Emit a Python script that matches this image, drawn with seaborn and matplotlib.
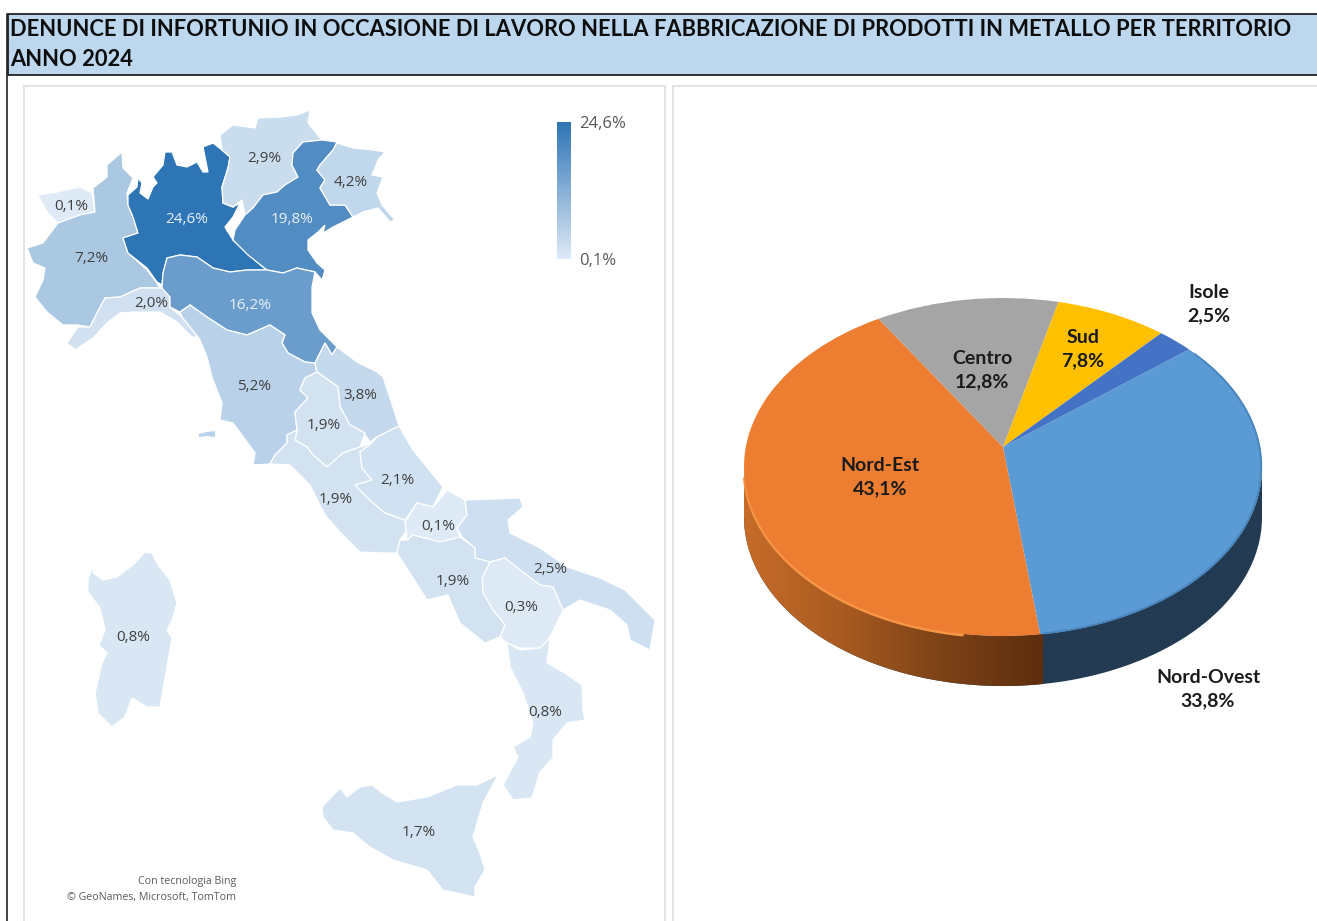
import numpy as np
import matplotlib
matplotlib.use('Agg')
import matplotlib.pyplot as plt
import seaborn as sns
from matplotlib.patches import Polygon, PathPatch, Rectangle
from matplotlib.path import Path

W, H = 1317, 921

TITLE_LINES = ['DENUNCE DI INFORTUNIO IN OCCASIONE DI LAVORO NELLA FABBRICAZIONE DI PRODOTTI IN METALLO PER TERRITORIO',
               'ANNO 2024']

# share by region
regions = ['Valle d\'Aosta', 'Piemonte', 'Lombardia', 'Trentino-Alto Adige', 'Veneto', 'Friuli-Venezia Giulia',
           'Liguria', 'Emilia-Romagna', 'Toscana', 'Marche', 'Umbria', 'Lazio', 'Abruzzo', 'Molise',
           'Puglia', 'Basilicata', 'Campania', 'Calabria', 'Sicilia', 'Sardegna']
region_share = [0.1, 7.2, 24.6, 2.9, 19.8, 4.2, 2.0, 16.2, 5.2, 3.8, 1.9, 1.9, 2.1, 0.1, 2.5, 0.3, 1.9, 0.8, 1.7, 0.8]
label_xy = [(71, 206), (91, 258), (187, 219), (264, 159), (292, 219), (351, 182), (151, 303), (250, 305), (254, 386),
            (360, 395), (324, 425), (336, 499), (397, 480), (438, 526), (550, 569), (521, 607), (453, 581), (545, 712),
            (419, 832), (133, 637)]

# share by macro area
areas = ['Nord-Ovest', 'Nord-Est', 'Centro', 'Sud', 'Isole']
area_share = [33.8, 43.1, 12.8, 7.8, 2.5]
area_colors = ['#5B9BD5', '#ED7D31', '#A5A5A5', '#FFC000', '#4472C4']
area_label_xy = [(1208, 689), (880, 477), (982, 370), (1083, 349), (1209, 304)]

# region outlines (pixels)
outlines = {
    'Valle d\'Aosta': [(38, 195), (57, 192), (80, 187), (92, 193), (95, 212), (80, 215), (58, 223), (47, 212)],
    'Piemonte': [(27, 248), (43, 243), (58, 223), (80, 215), (95, 212), (93, 188), (107, 177), (107, 165), (122, 152),
                 (123, 168), (133, 178), (127, 193), (128, 205), (133, 217), (138, 233), (123, 238), (128, 253),
                 (147, 270), (157, 283), (160, 288), (140, 288), (120, 297), (105, 298), (97, 313), (90, 327),
                 (78, 325), (63, 325), (47, 312), (35, 297), (43, 280), (45, 268), (33, 263)],
    'Lombardia': [(128, 195), (137, 187), (138, 178), (142, 183), (140, 193), (148, 199), (153, 187), (157, 183),
                  (153, 177), (163, 165), (165, 152), (172, 152), (177, 165), (187, 167), (197, 162), (203, 172),
                  (208, 172), (203, 147), (213, 143), (222, 150), (230, 157), (228, 168), (222, 187), (223, 203),
                  (233, 207), (240, 203), (233, 217), (225, 227), (233, 240), (247, 253), (263, 267), (267, 270),
                  (247, 270), (230, 272), (213, 268), (197, 257), (180, 255), (167, 258), (163, 273), (162, 285),
                  (157, 282), (147, 268), (128, 253), (123, 238), (138, 233), (133, 217), (128, 205)],
    'Trentino-Alto Adige': [(220, 135), (233, 125), (255, 128), (258, 118), (280, 117), (297, 115), (310, 110),
                            (308, 123), (322, 140), (303, 142), (293, 153), (292, 165), (298, 177), (285, 185),
                            (277, 192), (263, 195), (253, 208), (245, 215), (242, 200), (233, 207), (223, 203),
                            (222, 187), (228, 168), (230, 157), (222, 150)],
    'Veneto': [(303, 142), (322, 140), (337, 142), (333, 150), (320, 165), (317, 170), (325, 180), (320, 188),
               (330, 205), (345, 205), (353, 217), (333, 227), (323, 233), (325, 225), (318, 232), (308, 240),
               (308, 250), (317, 263), (325, 270), (322, 280), (315, 272), (297, 268), (283, 273), (267, 270),
               (248, 255), (233, 240), (235, 230), (245, 215), (253, 208), (263, 195), (277, 192), (285, 185),
               (298, 177), (292, 165), (293, 153)],
    'Friuli-Venezia Giulia': [(337, 143), (353, 148), (373, 150), (385, 152), (378, 160), (372, 175), (383, 177),
                              (377, 193), (382, 205), (395, 220), (390, 222), (378, 208), (363, 212), (353, 217),
                              (345, 205), (330, 205), (320, 188), (325, 180), (317, 170), (320, 165), (333, 150)],
    'Liguria': [(67, 343), (78, 327), (90, 327), (97, 313), (105, 298), (120, 297), (140, 288), (162, 288), (170, 297),
                (170, 307), (182, 317), (193, 330), (198, 337), (192, 337), (177, 322), (160, 312), (133, 312),
                (120, 313), (107, 323), (93, 338), (75, 350)],
    'Emilia-Romagna': [(162, 288), (163, 273), (167, 258), (180, 255), (197, 257), (213, 268), (230, 272), (247, 270),
                       (267, 270), (283, 273), (297, 268), (315, 272), (312, 287), (312, 313), (320, 330), (337, 347),
                       (332, 355), (325, 343), (315, 363), (305, 362), (288, 353), (282, 343), (285, 335), (270, 325),
                       (247, 335), (227, 330), (207, 317), (190, 305), (180, 312), (170, 307), (170, 297)],
    'Toscana': [(180, 312), (190, 305), (207, 317), (227, 330), (247, 335), (270, 325), (285, 335), (282, 343),
                (288, 353), (305, 362), (315, 363), (317, 372), (305, 378), (300, 390), (308, 398), (295, 412),
                (297, 430), (287, 435), (287, 443), (275, 455), (270, 464), (253, 465), (255, 453), (247, 442),
                (233, 423), (220, 420), (222, 403), (212, 377), (207, 357), (200, 340), (198, 337), (182, 317)],
    'Marche': [(315, 363), (325, 343), (332, 355), (337, 347), (357, 362), (377, 372), (383, 377), (393, 407),
               (399, 426), (377, 437), (370, 442), (363, 432), (350, 425), (340, 407), (338, 387), (317, 372)],
    'Umbria': [(317, 372), (338, 387), (340, 407), (350, 425), (365, 433), (360, 447), (343, 453), (327, 467),
               (313, 455), (307, 447), (295, 440), (297, 430), (295, 412), (308, 398), (300, 390), (305, 378)],
    'Lazio': [(287, 435), (297, 430), (295, 440), (307, 447), (313, 455), (327, 467), (343, 453), (360, 447),
              (372, 443), (360, 452), (362, 468), (372, 480), (355, 485), (372, 502), (385, 513), (405, 520),
              (407, 530), (400, 540), (397, 553), (385, 553), (360, 552), (340, 532), (325, 515), (310, 485),
              (290, 465), (270, 464), (275, 455), (287, 443)],
    'Abruzzo': [(399, 426), (413, 450), (443, 487), (433, 507), (417, 503), (405, 520), (385, 513), (372, 502),
                (355, 485), (372, 480), (362, 468), (360, 452), (372, 443), (377, 437)],
    'Molise': [(447, 490), (465, 500), (467, 515), (457, 528), (460, 537), (440, 542), (413, 535), (407, 540),
               (405, 522), (417, 503), (433, 507)],
    'Puglia': [(465, 500), (520, 498), (523, 507), (508, 520), (510, 533), (540, 548), (567, 567), (600, 578),
               (625, 590), (655, 620), (650, 650), (630, 640), (627, 625), (610, 610), (580, 600), (563, 610),
               (553, 587), (540, 585), (520, 570), (505, 558), (490, 562), (475, 558), (475, 548), (462, 537),
               (457, 528), (467, 515)],
    'Basilicata': [(490, 562), (505, 558), (520, 570), (540, 585), (553, 587), (563, 610), (552, 633), (543, 648),
                   (520, 648), (507, 643), (500, 637), (505, 625), (493, 610), (483, 593), (482, 578)],
    'Campania': [(400, 540), (407, 540), (413, 535), (440, 542), (460, 537), (475, 548), (475, 558), (490, 562),
                 (482, 578), (483, 593), (493, 610), (505, 625), (500, 637), (485, 643), (460, 623), (448, 595),
                 (427, 600), (410, 573), (397, 553)],
    'Calabria': [(507, 643), (520, 650), (540, 648), (550, 638), (547, 663), (563, 672), (582, 685), (583, 710),
                 (585, 720), (567, 723), (553, 740), (553, 758), (540, 772), (532, 798), (513, 800), (503, 785),
                 (518, 757), (513, 747), (530, 737), (533, 723), (523, 693), (510, 667)],
    'Sicilia': [(322, 807), (340, 788), (347, 797), (360, 787), (372, 785), (382, 793), (397, 802), (427, 797),
                (457, 785), (477, 785), (498, 775), (483, 803), (473, 837), (480, 853), (485, 870), (475, 887),
                (475, 897), (443, 890), (427, 870), (393, 860), (370, 847), (353, 833), (333, 830), (323, 817)],
    'Sardegna': [(88, 578), (95, 563), (93, 573), (103, 580), (117, 577), (133, 565), (145, 552), (152, 553),
                 (158, 565), (170, 580), (177, 603), (172, 620), (167, 630), (172, 638), (167, 667), (160, 707),
                 (147, 707), (132, 698), (125, 717), (112, 727), (98, 713), (95, 693), (102, 663), (107, 653),
                 (99, 645), (105, 630), (100, 608), (88, 592)],
}
garda = [(242, 200), (233, 217), (225, 227), (227, 232), (235, 230), (240, 213)]
elba = [(199, 434), (207, 432), (215, 431), (215, 437), (207, 436), (199, 437)]

sns.set_theme(style='white')
plt.rcParams['font.family'] = ['Open Sans', 'DejaVu Sans']

fig = plt.figure(figsize=(W / 100, H / 100), dpi=100, facecolor='white')
ax = fig.add_axes([0, 0, 1, 1])
ax.axis('off')

# title band and panels
ax.add_patch(Rectangle((8, 14), W, 61, fc='#BDD7EE', ec='#111111', lw=1.2))
ax.plot([7, 7], [14, H], color='#222222', lw=1.2)
for x0, x1 in [(24, 665), (673, W + 5)]:
    ax.add_patch(Rectangle((x0, 86), x1 - x0, H, fc='white', ec='#E3E3E3', lw=1.5))
for i, line in enumerate(TITLE_LINES):
    ax.text(10, 29 + i * 31, line, family='Lato', fontweight='bold', fontsize=15.75, color='#0d0d0d', va='center')

# choropleth
cmap = sns.blend_palette(['#DEEAF6', '#2E75B6'], as_cmap=True)
lo, hi = min(region_share), max(region_share)
for name, share, (lx, ly) in zip(regions, region_share, label_xy):
    col = cmap((share - lo) / (hi - lo))
    ax.add_patch(Polygon(outlines[name], closed=True, fc=col, ec='white', lw=0.9))
    ax.text(lx, ly, f'{share:.1f}%'.replace('.', ','), ha='center', va='center', fontsize=11,
            color='#EAF1F8' if share > 10 else '#404040')
ax.add_patch(Polygon(garda, closed=True, fc='white', ec='none'))
ax.add_patch(Polygon(elba, closed=True, fc=cmap((5.2 - lo) / (hi - lo)), ec='none'))

# colour legend
grad = np.linspace(1, 0, 200).reshape(-1, 1)
ax.imshow(grad, cmap=cmap, extent=(557, 571, 259, 123), aspect='auto', zorder=3)
ax.text(579, 124, f'{hi:.1f}%'.replace('.', ','), fontsize=12, color='#595959', va='center')
ax.text(579, 261, f'{lo:.1f}%'.replace('.', ','), fontsize=12, color='#595959', va='center')

ax.text(236, 881, 'Con tecnologia Bing', fontsize=7.7, color='#595959', ha='right', va='center')
ax.text(236, 897, '© GeoNames, Microsoft, TomTom', fontsize=7.7, color='#595959', ha='right', va='center')

# pie: side band first, then the flat top
cx, cy, rx, ry, depth = 1003, 467, 259, 169, 50
t = np.linspace(np.pi, 0, 300)
ex, ey = cx + rx * np.cos(t), cy + ry * np.sin(t)
band = Path(np.r_[np.c_[ex, ey], np.c_[ex[::-1], ey[::-1] + depth], [[ex[0], ey[0]]]])
split_x = 1043
orange = sns.blend_palette(['#C76C2A', '#A85A20', '#7C4217', '#5E2E0E'], as_cmap=True)
im = ax.imshow(np.linspace(0, 1, 300).reshape(1, -1), cmap=orange, aspect='auto', zorder=2,
               extent=(cx - rx, split_x, cy + ry + depth, cy))
im.set_clip_path(PathPatch(band, transform=ax.transData))
ax.add_patch(PathPatch(band, fc='#223B52', ec='none', zorder=1.5))
ax.set_xlim(0, W)
ax.set_ylim(H, 0)

pie_ax = fig.add_axes([(cx - rx) / W, 1 - (cy + ry) / H, 2 * rx / W, 2 * ry / H])
wedges, _ = pie_ax.pie(area_share, colors=area_colors, startangle=39, counterclock=False, radius=1)
pie_ax.set_aspect('auto')
pie_ax.set_xlim(-1, 1)
pie_ax.set_ylim(-1, 1)
# tilt of the disc: the centre of the pie lands above the middle of the ellipse
a = (cy - 447) / ry
for w in wedges:
    p = w.get_patch_transform().transform_path(w.get_path())
    x, y = p.vertices[:, 0], p.vertices[:, 1]
    d = 1 + a * y
    v = np.c_[x * np.sqrt(1 - a ** 2) / d, (y + a) / d]
    pie_ax.add_patch(PathPatch(Path(v, p.codes), fc=w.get_facecolor(), ec='none', clip_on=False))
    w.set_visible(False)

# soft rim on the blue slice, highlight on the orange one
tb = np.radians(np.linspace(42, -81, 200))
pie_ax.plot(np.cos(tb) * 0.997, np.sin(tb) * 0.997, color='#4A86BE', lw=1.4, clip_on=False)
tt = np.linspace(np.pi * 0.98, np.radians(99), 200)
ax.plot(cx + rx * np.cos(tt), cy + ry * np.sin(tt) + 1, color='#F79646', lw=2.2, zorder=2.5, solid_capstyle='round')

for name, share, (lx, ly) in zip(areas, area_share, area_label_xy):
    pie_ax.text(lx, ly, f'{name}\n{share:.1f}%'.replace('.', ','), transform=ax.transData, ha='center', va='center',
                family='Lato', fontweight='bold', fontsize=14, color='#1a1a1a', linespacing=1.5, clip_on=False)

fig.savefig('out.png', dpi=100, facecolor='white')
